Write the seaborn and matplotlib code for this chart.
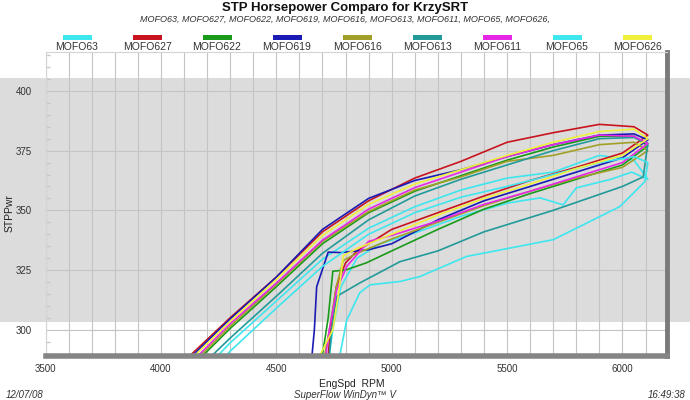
import pandas as pd
import seaborn as sns
import matplotlib.pyplot as plt
from matplotlib.patches import Rectangle
from matplotlib.ticker import MultipleLocator

# runs, in legend order, and their trace colours
runs = ["MOFO63", "MOFO627", "MOFO622", "MOFO619", "MOFO616",
        "MOFO613", "MOFO611", "MOFO65", "MOFO626"]
colors = ["#3ee6ee", "#c8141e", "#1a9a1a", "#1a1ab4", "#a0a028",
          "#229a9a", "#e628e6", "#3ee6ee", "#f0f03c"]

# upper trace: rpm where each run enters the chart, then hp on a shared rpm grid
start_rpm = [4250, 4130, 4185, 4140, 4175, 4225, 4165, 4285, 4150]
up_rpm = [4300, 4500, 4700, 4900, 5100, 5300, 5500, 5700, 5900, 6050, 6110]
up_hp = {
    "MOFO63": [294.5, 312, 329.5, 342.5, 351.5, 358.5, 363.5, 366, 373, 371, 363],
    "MOFO627": [305, 322, 341, 354, 363.5, 370.5, 378.5, 382.5, 386, 385, 381.5],
    "MOFO622": [300.5, 318, 336, 349, 358, 364.5, 371, 376.5, 381, 381, 377],
    "MOFO619": [304.5, 322, 342, 355, 362.5, 367, 372.5, 377.5, 381.5, 382, 379.5],
    "MOFO616": [301.5, 319, 337, 349.5, 358.5, 364, 370.5, 373, 377.5, 378.5, 375],
    "MOFO613": [296.5, 314, 332, 346, 356, 363, 369, 375, 380, 380.5, 378],
    "MOFO611": [302.5, 319.5, 337.5, 350.5, 359.5, 366, 372.5, 377.5, 381.5, 381, 378],
    "MOFO65": [291, 309, 326.5, 340, 349, 355.5, 360, 365, 370, 372.5, 370],
    "MOFO626": [303.5, 321, 339.5, 352.5, 361, 367, 373, 378.5, 383, 384, 380],
}

# lower trace, read from the right end back to the left
lo_rpm = {
    "MOFO63": [6040, 5950, 5800, 5743, 5643, 5500, 5300, 5100, 4950, 4850, 4780, 4745, 4730],
    "MOFO627": [6000, 5800, 5600, 5400, 5200, 5000, 4850, 4800, 4760, 4735, 4725],
    "MOFO622": [6000, 5800, 5600, 5400, 5200, 5000, 4890, 4800, 4745, 4725, 4700],
    "MOFO619": [6000, 5800, 5600, 5400, 5200, 5000, 4900, 4780, 4725, 4675, 4665, 4655],
    "MOFO616": [6000, 5800, 5600, 5400, 5200, 5000, 4850, 4790, 4760, 4730, 4710],
    "MOFO613": [6090, 6000, 5700, 5400, 5200, 5036, 4862, 4762, 4740, 4730],
    "MOFO611": [6000, 5800, 5600, 5400, 5200, 5000, 4900, 4805, 4762, 4730, 4715],
    "MOFO65": [6097, 5989, 5700, 5325, 5123, 5036, 4906, 4862, 4805, 4776],
    "MOFO626": [6000, 5800, 5600, 5400, 5200, 5000, 4850, 4790, 4770, 4745, 4690],
}
lo_hp = {
    "MOFO63": [366, 363, 359.4, 352.3, 355.2, 353, 347.5, 340.5, 336, 330, 318, 300, 289.5],
    "MOFO627": [374, 368, 362.5, 356, 349, 342, 333, 328, 318, 300, 289.5],
    "MOFO622": [369, 363, 357, 350.5, 342, 333, 328, 325, 324.5, 305, 289.5],
    "MOFO619": [372, 366, 360, 354, 346, 336, 333.5, 332.3, 332.5, 318, 300, 289.5],
    "MOFO616": [368, 363.5, 358, 352, 345, 338, 332, 329, 318, 300, 289.5],
    "MOFO613": [364, 360, 350, 341, 333, 328.5, 319.6, 314, 300, 289.5],
    "MOFO611": [370, 364, 358, 352.5, 345.5, 339.5, 337, 326.5, 316.7, 300, 289.5],
    "MOFO65": [362, 351.6, 337.7, 330.7, 322.3, 320.2, 318.8, 315.5, 304, 289.5],
    "MOFO626": [373, 367.5, 361, 355, 348, 340, 334, 331, 315, 300, 289.5],
}

rows = []
for run, x0 in zip(runs, start_rpm):
    xs = [x0] + up_rpm + lo_rpm[run]
    ys = [289.5] + up_hp[run] + lo_hp[run]
    for i, (x, y) in enumerate(zip(xs, ys)):
        rows.append({"Run": run, "Step": i, "RPM": x, "HP": y})
df = pd.DataFrame(rows)

sns.set_theme(style="white")
plt.rcParams["font.family"] = ["Liberation Sans", "DejaVu Sans"]

fig = plt.figure(figsize=(6.9, 4.0), dpi=100)
fig.patch.set_facecolor("white")
# grey band across the whole picture
fig.add_artist(Rectangle((0, 1 - 322 / 400), 1, 244 / 400, transform=fig.transFigure,
                         facecolor="#dcdcdc", edgecolor="none", zorder=-5))

ax = fig.add_axes([45.5 / 690, 1 - 356 / 400, (667 - 45.5) / 690, (356 - 52) / 400])
ax.set_facecolor("none")

sns.lineplot(data=df, x="RPM", y="HP", hue="Run", palette=dict(zip(runs, colors)),
             estimator=None, sort=False, linewidth=1.2, legend=False, ax=ax)

ax.set_xlim(3500, 6193)
ax.set_ylim(289, 416.3)
ax.xaxis.set_major_locator(MultipleLocator(500))
ax.xaxis.set_minor_locator(MultipleLocator(100))
ax.yaxis.set_major_locator(MultipleLocator(25))
ax.yaxis.set_minor_locator(MultipleLocator(5))
ax.grid(True, which="major", color="#c4c4c4", linewidth=0.8)
ax.grid(True, which="minor", axis="x", color="#c4c4c4", linewidth=0.8)
ax.tick_params(axis="x", which="both", length=0, pad=6, labelsize=7, colors="#333333")
ax.tick_params(axis="y", which="major", length=0, pad=10, labelsize=7, colors="#333333")
ax.tick_params(axis="y", which="minor", length=3, direction="in", color="#c8c8c8", left=True)
ax.set_xlabel("")
ax.set_ylabel("")

for side in ["left", "top"]:
    ax.spines[side].set_color("#d4d4d4")
    ax.spines[side].set_linewidth(0.8)
ax.spines["right"].set_color("#7a7a7a")
ax.spines["right"].set_linewidth(3.5)
ax.spines["bottom"].set_color("#858585")
ax.spines["bottom"].set_linewidth(4)

# axis titles
fig.text(352 / 690, 1 - 384 / 400, "EngSpd  RPM", ha="center", va="center",
         fontsize=7.5, color="#222222")
fig.text(10 / 690, 1 - 213 / 400, "STPPwr", ha="center", va="center", rotation=90,
         fontsize=7.5, color="#222222")

# titles
fig.text(345 / 690, 1 - 8 / 400, "STP Horsepower Comparo for KrzySRT", ha="center",
         va="center", fontsize=9.5, fontweight="bold", color="#111111")
fig.text(345 / 690, 1 - 19.5 / 400, ", ".join(runs) + ",", ha="center", va="center",
         fontsize=6.5, style="italic", color="#333333")

# legend: swatch above each label
for i, (run, c) in enumerate(zip(runs, colors)):
    cx = 77 + 70 * i
    fig.add_artist(Rectangle(((cx - 14.5) / 690, 1 - 39.5 / 400), 29 / 690, 5 / 400,
                             transform=fig.transFigure, facecolor=c, edgecolor="none"))
    fig.text(cx / 690, 1 - 47.5 / 400, run, ha="center", va="center", fontsize=7.5,
             color="#333333")

# footer
fig.text(6 / 690, 1 - 395 / 400, "12/07/08", ha="left", va="center", fontsize=7,
         style="italic", color="#333333")
fig.text(345 / 690, 1 - 395 / 400, "SuperFlow WinDyn\u2122 V", ha="center", va="center",
         fontsize=7, style="italic", color="#333333")
fig.text(685 / 690, 1 - 395 / 400, "16:49:38", ha="right", va="center", fontsize=7,
         style="italic", color="#333333")

fig.savefig("out.png", dpi=100)
